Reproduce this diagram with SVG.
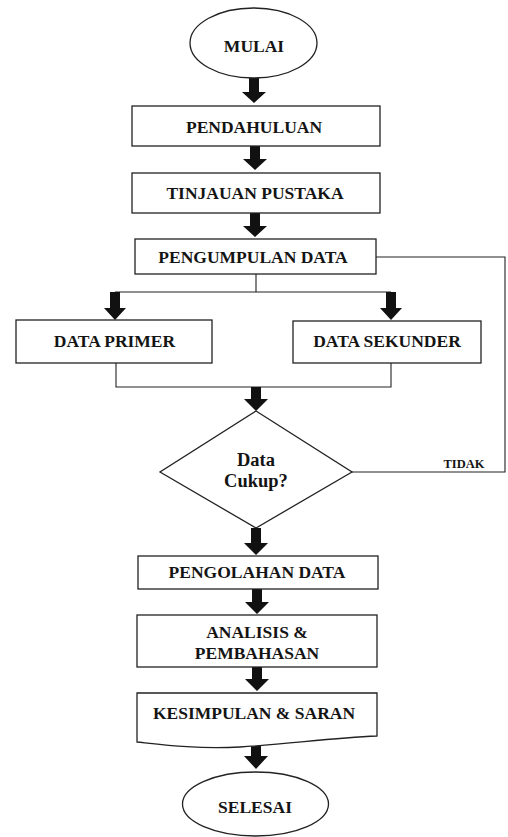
<svg xmlns="http://www.w3.org/2000/svg" width="508" height="837" viewBox="0 0 508 837">
<style>
.box{fill:#fff;stroke:#222;stroke-width:1.3}
.t{font-family:'Liberation Serif','Times New Roman','DejaVu Serif',serif;font-weight:700;font-size:17.5px;fill:#141414;text-anchor:middle}
.ln{fill:none;stroke:#222;stroke-width:1.1}
.ar{fill:#111}
</style>
<rect width="508" height="837" fill="#fff"/>
<g id="connectors">
<path class="ar" d="M249,78 H259 V92 H266 L254,103 L242,92 H249 Z"/>
<path class="ar" d="M250,146 H260 V159 H267 L255,170 L243,159 H250 Z"/>
<path class="ar" d="M250,213 H260 V226 H267 L255,237 L243,226 H250 Z"/>
<path class="ln" d="M256,274 V292 M115,292 H391"/>
<path class="ar" d="M110,292 H120 V308 H126 L115,320 L104,308 H110 Z"/>
<path class="ar" d="M386,292 H396 V308 H402 L391,320 L380,308 H386 Z"/>
<path class="ln" d="M116,363 V387 H391 V363"/>
<path class="ar" d="M251,387 H261 V399 H268 L256,411 L244,399 H251 Z"/>
<path class="ln" d="M352,472 H505 V257 H376"/>
<path class="ar" d="M251,528 H261 V543 H268 L256,555 L244,543 H251 Z"/>
<path class="ar" d="M252,589 H262 V602 H269 L257,614 L245,602 H252 Z"/>
<path class="ar" d="M252,667 H262 V679 H269 L257,691 L245,679 H252 Z"/>
<path class="ar" d="M251,743 H261 V756 H268 L256,769 L244,756 H251 Z"/>
</g>
<g id="mulai">
<ellipse class="box" cx="253.5" cy="43" rx="63.5" ry="35"/>
<text class="t" x="254" y="52">MULAI</text>
</g>
<g id="pendahuluan">
<rect class="box" x="132" y="106" width="248" height="40"/>
<text class="t" x="254" y="133">PENDAHULUAN</text>
</g>
<g id="tinjauan">
<rect class="box" x="132" y="173" width="248" height="40"/>
<text class="t" x="255" y="199">TINJAUAN PUSTAKA</text>
</g>
<g id="pengumpulan">
<rect class="box" x="135" y="239" width="241" height="35"/>
<text class="t" x="253" y="263">PENGUMPULAN DATA</text>
</g>
<g id="primer">
<rect class="box" x="16" y="320" width="196" height="43"/>
<text class="t" x="114.5" y="347">DATA PRIMER</text>
</g>
<g id="sekunder">
<rect class="box" x="293" y="321" width="188" height="42"/>
<text class="t" x="387" y="347">DATA SEKUNDER</text>
</g>
<g id="keputusan">
<polygon class="box" points="256,411 352,472 256,528 160,472"/>
<text class="t" x="256" y="466" style="font-size:18.5px">Data</text>
<text class="t" x="256" y="487" style="font-size:18.5px">Cukup?</text>
<text class="t" x="464" y="468" style="font-size:12.5px">TIDAK</text>
</g>
<g id="pengolahan">
<rect class="box" x="138" y="556" width="240" height="33"/>
<text class="t" x="257" y="578">PENGOLAHAN DATA</text>
</g>
<g id="analisis">
<rect class="box" x="137" y="615" width="240" height="52"/>
<text class="t" x="257" y="638">ANALISIS &amp;</text>
<text class="t" x="257" y="659">PEMBAHASAN</text>
</g>
<g id="kesimpulan">
<path class="box" d="M137,693 H377 V736 C330,738 290,744 240,747 C195,749 165,745 137,742 Z"/>
<text class="t" x="254" y="719">KESIMPULAN &amp; SARAN</text>
</g>
<g id="selesai">
<ellipse class="box" cx="255.5" cy="804" rx="73" ry="32"/>
<text class="t" x="255" y="813">SELESAI</text>
</g>
</svg>
